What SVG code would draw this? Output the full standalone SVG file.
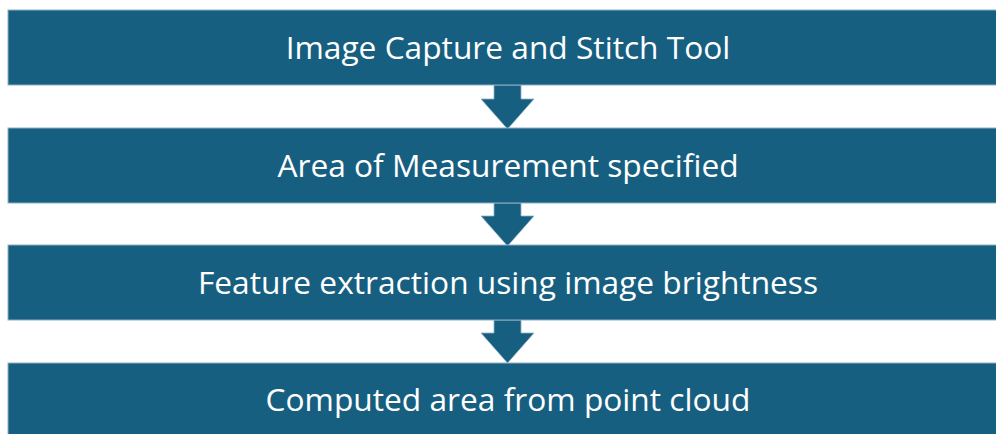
<svg xmlns="http://www.w3.org/2000/svg" width="996" height="434" viewBox="0 0 996 434">
<style>
.box{fill:#175f80;stroke:#8fb0c4;stroke-width:1}
.lbl{fill:#ffffff;font-family:"Open Sans","Liberation Sans",sans-serif;font-size:31.7px;text-anchor:middle;dominant-baseline:central}
.arr{fill:#175f80;stroke:#8fb0c4;stroke-width:0.8}
</style>
<rect width="996" height="434" fill="#ffffff"/>
<g id="connectors">
<polygon class="arr" points="494,85 521,85 521,99 534,99 507.5,129 481,99 494,99"/>
<polygon class="arr" points="494,203 521,203 521,216 534,216 507.5,246 481,216 494,216"/>
<polygon class="arr" points="494,320 521,320 521,333 534,333 507.5,363 481,333 494,333"/>
</g>
<g id="node1"><rect class="box" x="8" y="10" width="1000" height="75"/><text class="lbl" x="508" y="46.5">Image Capture and Stitch Tool</text></g>
<g id="node2"><rect class="box" x="8" y="128" width="1000" height="75"/><text class="lbl" x="508" y="164.5">Area of Measurement specified</text></g>
<g id="node3"><rect class="box" x="8" y="245" width="1000" height="75"/><text class="lbl" x="508" y="281.5">Feature extraction using image brightness</text></g>
<g id="node4"><rect class="box" x="8" y="363" width="1000" height="75"/><text class="lbl" x="508" y="398">Computed area from point cloud</text></g>
</svg>
